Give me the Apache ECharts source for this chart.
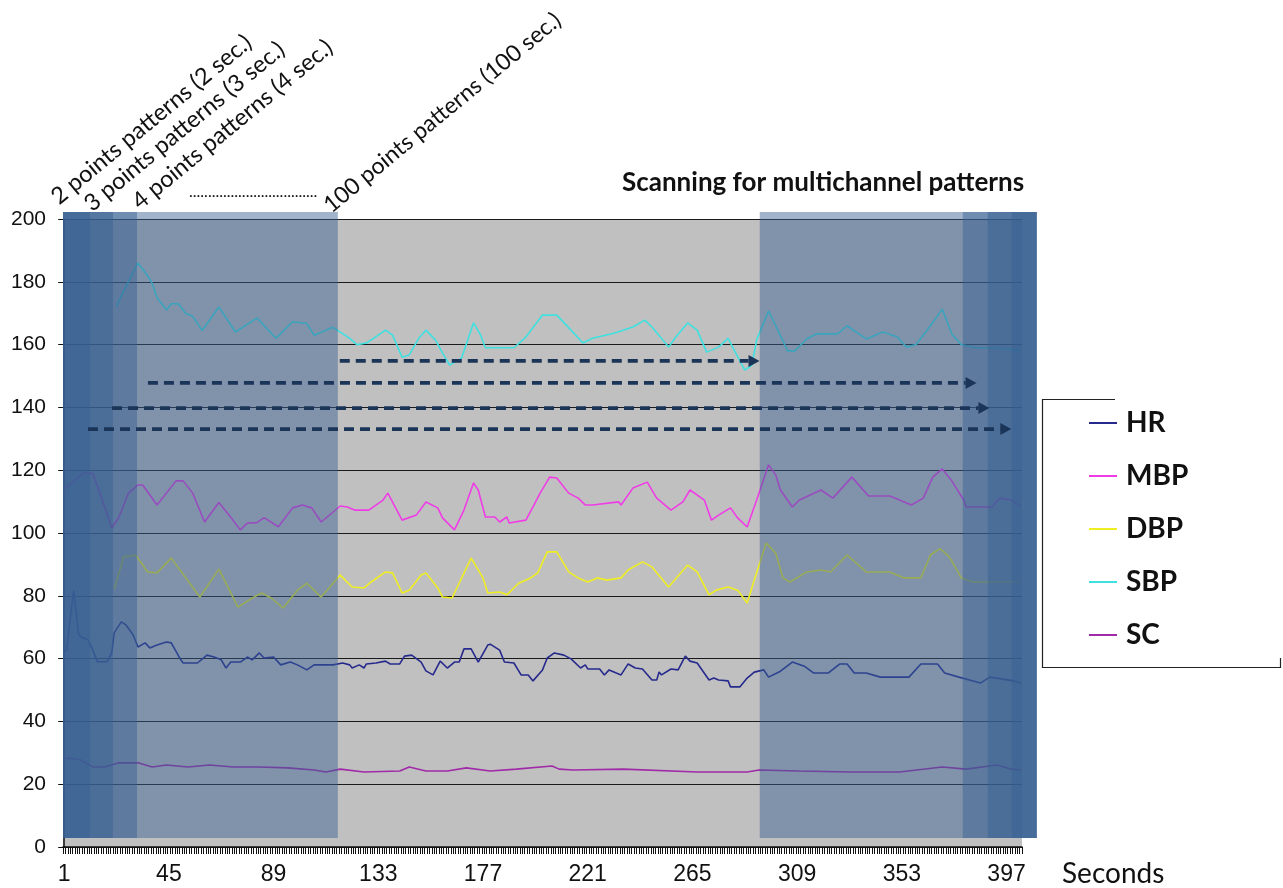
<!DOCTYPE html>
<html>
<head>
<meta charset="utf-8">
<script src="https://cdn.jsdelivr.net/npm/echarts@6/dist/echarts.min.js"></script>
<style>
html,body{margin:0;padding:0;background:#fff;}
#c{width:1283px;height:888px;}
</style>
</head>
<body>
<div id="c"></div>
<script>
// ---- data ----
const N_SECONDS = 403;
const categories = [];
for (let i = 1; i <= N_SECONDS; i++) categories.push(String(i));

const yTicks = [0, 20, 40, 60, 80, 100, 120, 140, 160, 180, 200];

const SBP = [[22,172],[23,174],[31,186],[35,182],[37,179.5],[39,175],[43,171],[45,173],[48,173],[51,170],[54,169],[58,164.5],[65,172],[72,164],[81,168.5],[89,162],[96,167.3],[102,166.7],[105,163],[113,165.5],[117,163.5],[120,162],[123,160],[127,160.5],[130,162],[135,164.6],[138,163],[142,156],[145,156.7],[149,162],[152,164.6],[156,161.5],[159,157.3],[162,153.5],[167,155.7],[172,166.9],[175,163],[177,159],[189,159],[194,162.4],[201,169.4],[207,169.4],[211,166.2],[218,160.5],[222,162],[231,163.6],[239,165.6],[244,167.8],[247,165.6],[254,159.2],[257,162.4],[262,166.9],[266,164.6],[270,157.6],[275,159.2],[279,162],[282,157.6],[286,151.9],[289,153.5],[291,161.5],[296,170.7],[299,166],[304,158],[307,158],[312,161.8],[316,163.4],[325,163.4],[329,166],[337,161.8],[344,164],[350,162.5],[354,159.2],[358,160],[364,166],[369,171.3],[373,163.4],[377,160],[383,159],[393,159],[402,158]];

const MBP = [[0,114],[8,119],[12,119],[15,112.7],[20,101.6],[23,105],[27,112.7],[31,115.3],[33,115.3],[39,108.9],[47,116.6],[50,116.6],[54,112.7],[59,103.5],[65,109.7],[70,105],[74,101],[77,103.2],[81,103.3],[84,104.9],[90,102],[96,108],[100,108.9],[104,108],[108,103.5],[116,108.6],[119,108.3],[122,107.3],[128,107.3],[134,110.5],[136,112.7],[142,104.1],[148,105.7],[152,109.9],[157,108],[159,104.8],[164,101],[168,107.3],[172,115.9],[174,113.7],[177,105.1],[181,105.1],[183,103.5],[186,105.1],[187,103.2],[194,104.1],[197,108.3],[200,112.7],[204,117.8],[207,117.5],[212,112.7],[216,111.1],[219,108.9],[222,108.9],[233,109.9],[234,108.9],[239,114.3],[245,116.2],[249,111.1],[255,107.3],[260,109.9],[263,113.7],[269,110.5],[272,104.1],[275,105.7],[280,108],[283,104.8],[287,101.9],[291,110.5],[296,121.7],[299,118.5],[301,113.7],[306,108.3],[309,110.5],[318,113.7],[323,111.1],[331,117.8],[338,111.8],[347,111.8],[356,108.9],[361,111.1],[365,117.8],[369,120.4],[373,116.6],[378,110.5],[379,108.3],[390,108.3],[393,111.1],[398,110.5],[402,108.5]];

const DBP = [[21,82],[25,92.4],[30,93],[33,89.8],[35,87.6],[39,87.3],[45,92],[57,79.6],[65,88.5],[73,76.4],[79,79.3],[83,80.9],[87,79.3],[92,76.1],[98,81.8],[102,84],[108,79.6],[116,86.6],[121,82.8],[126,82.5],[129,84.4],[135,87.6],[138,87.3],[142,80.9],[145,81.8],[150,86.6],[152,87.3],[157,82.5],[159,79.6],[163,79.3],[171,92],[176,85.7],[178,80.9],[183,81.2],[186,80.3],[191,84],[196,85.7],[199,87.3],[203,94],[207,94],[212,87.6],[216,85.7],[220,84.4],[224,85.7],[228,85],[234,85.7],[237,88.2],[243,90.8],[247,89.2],[254,82.8],[262,89.8],[266,87.6],[271,80.3],[274,81.8],[279,82.8],[283,81.8],[287,77.7],[290,85],[295,96.8],[299,93.6],[302,85.7],[305,84.4],[312,87.6],[318,88.2],[322,87.6],[329,93],[337,87.6],[347,87.6],[353,85.7],[360,85.7],[364,93],[368,95],[372,92.4],[377,85.7],[382,84.4],[393,84.4],[402,84.5]];

const HR = [[0,62],[1,62.7],[4,81.8],[6,68],[7,66.9],[10,66],[12,62.7],[14,59],[18,59],[20,61.8],[21,68.2],[24,71.7],[26,70.7],[29,67.5],[31,63.7],[34,65],[36,63.4],[39,64.3],[43,65.3],[45,65],[49,59.6],[50,58.6],[56,58.6],[60,61.1],[63,60.5],[66,59.6],[68,57],[70,58.9],[74,58.9],[77,60.5],[79,59.6],[82,61.8],[84,60.2],[88,60.5],[91,58],[95,58.9],[98,58],[102,56.4],[105,58],[113,58],[117,58.6],[120,58],[121,57],[124,58],[126,57],[127,58.3],[131,58.6],[135,59.2],[137,58.3],[141,58.3],[143,60.8],[146,61.1],[150,58.9],[152,56.1],[155,54.8],[158,59.2],[161,57],[164,58.9],[166,58.9],[168,63.1],[171,63.1],[174,58.9],[178,64.3],[179,64.6],[183,62.7],[185,58.9],[189,58.6],[192,54.8],[195,54.8],[197,52.9],[201,56.4],[203,60.2],[206,61.8],[210,61.1],[213,59.9],[217,57],[219,58],[220,56.7],[225,56.7],[227,54.8],[229,56.4],[232,55.4],[234,54.8],[237,58.3],[240,57],[243,56.7],[247,53.2],[249,53.2],[250,55.7],[251,54.8],[255,56.7],[258,56.4],[261,60.8],[263,59.2],[266,58.6],[271,53.2],[273,53.8],[275,53.2],[279,52.9],[280,51],[284,51],[287,53.8],[290,55.7],[294,56.4],[296,54.1],[301,56],[306,58.9],[311,57.6],[315,55.4],[321,55.4],[326,58.3],[329,58.3],[332,55.4],[337,55.4],[343,54.1],[355,54.1],[360,58.3],[367,58.3],[370,55.4],[376,54.1],[385,52.2],[389,54.1],[399,52.9],[402,52.2]];

const SC = [[0,28],[2,28.3],[7,27.7],[12,25.5],[17,25.5],[23,26.8],[31,26.8],[37,25.5],[43,26.1],[52,25.5],[61,26.1],[71,25.5],[82,25.5],[94,25.2],[105,24.5],[110,23.9],[116,24.8],[126,23.9],[141,24.2],[145,25.5],[152,24.2],[161,24.2],[169,25.2],[179,24.2],[190,24.8],[205,25.8],[208,24.8],[214,24.5],[235,24.8],[266,23.9],[287,23.9],[292,24.5],[309,24.2],[330,23.9],[351,23.9],[369,25.5],[379,24.8],[392,26.1],[398,24.8],[402,24.5]];

// scanning windows (start index, end index) in seconds-index units
const WINDOWS = [[-0.5,115],[-0.5,30.6],[-0.5,20.5],[-0.5,10.8],[292.3,408.7],[377.6,408.7],[388.1,408.7],[398.2,408.7]];
const WINDOW_TOP = 202.2, WINDOW_BOTTOM = 2.9;
// scan arrows: start index, end index, level
const ARROWS = [[115.8,292.2,154.8],[35.2,383.4,147.8],[20.1,388.8,139.8],[10,398,133.1]];

const seriesNames = ['HR','MBP','DBP','SBP','SC'];
const seriesData = {HR, MBP, DBP, SBP, SC};
const colors = {HR:'#262a8c', MBP:'#f03ce6', DBP:'#eeee22', SBP:'#3ee0e0', SC:'#a02aa8'};

const chart = echarts.init(document.getElementById('c'), null, {renderer:'canvas'});

const lineSeries = seriesNames.map(n => ({
  name: n, type: 'line', data: seriesData[n], xAxisIndex: 0, yAxisIndex: 0,
  showSymbol: false, symbol: 'none', z: 2, animation: false,
  lineStyle: {color: colors[n], width: 1.6}, itemStyle: {color: colors[n]}
}));

const FONT = 'Lato, "Open Sans", sans-serif';
const ROT = 0.69;

const option = {
  animation: false,
  grid: {left: 63, right: 261, top: 219, bottom: 41, show: true, backgroundColor: '#c0c0c0', borderWidth: 0},
  legend: {
    data: seriesNames, orient: 'vertical', left: 1084, top: 403,
    icon: 'path://M0,0 L28,0 L28,2 L0,2 Z', itemWidth: 28, itemHeight: 2, itemGap: 23,
    textStyle: {fontFamily: FONT, fontWeight: 'bold', fontSize: 28, color: '#111', lineHeight: 30, padding: [0,0,0,4]},
    selectedMode: false
  },
  xAxis: [{
    type: 'category', data: categories, boundaryGap: true,
    axisLine: {show: true, lineStyle: {color: '#111', width: 1.5}},
    axisTick: {show: true, interval: 0, length: 7, lineStyle: {color: '#111', width: 1}},
    axisLabel: {interval: 43, fontFamily: '"Liberation Sans", Arial, sans-serif', fontSize: 23, color: '#111', margin: 16},
    splitLine: {show: false}
  }, {
    type: 'value', min: -0.5, max: N_SECONDS - 0.5, show: false
  }],
  yAxis: {
    type: 'value', min: 0, max: 200, interval: 20,
    axisLine: {show: true, lineStyle: {color: '#111', width: 1.5}},
    axisTick: {show: true, length: 6, lineStyle: {color: '#111'}},
    axisLabel: {fontFamily: '"Liberation Sans", Arial, sans-serif', fontSize: 21, color: '#111', margin: 17,
      formatter: v => yTicks.includes(v) ? String(v) : ''},
    splitLine: {show: true, lineStyle: {color: '#1a1a1a', width: 1.2}}
  },
  series: lineSeries.concat([
    {
      type: 'custom', name: 'windows', xAxisIndex: 1, yAxisIndex: 0, z: 3, silent: true,
      data: WINDOWS.map((w, i) => [i]),
      renderItem: (params, api) => {
        const w = WINDOWS[params.dataIndex];
        const p0 = api.coord([w[0], WINDOW_TOP]);
        const p1 = api.coord([w[1], WINDOW_BOTTOM]);
        return {type: 'rect', shape: {x: p0[0], y: p0[1], width: p1[0] - p0[0], height: p1[1] - p0[1]},
          style: {fill: 'rgba(55,96,146,0.47)'}};
      }
    },
    {
      type: 'custom', name: 'arrows', xAxisIndex: 1, yAxisIndex: 0, z: 4, silent: true,
      data: ARROWS.map((a, i) => [i]),
      renderItem: (params, api) => {
        const a = ARROWS[params.dataIndex];
        const p0 = api.coord([a[0], a[2]]);
        const p1 = api.coord([a[1], a[2]]);
        const head = 11;
        return {type: 'group', children: [
          {type: 'line', shape: {x1: p0[0], y1: p0[1], x2: p1[0] - head, y2: p1[1]},
            style: {stroke: '#1b3558', lineWidth: 3.8, lineDash: [10, 6]}},
          {type: 'polygon', shape: {points: [[p1[0] - head, p1[1] - 6], [p1[0], p1[1]], [p1[0] - head, p1[1] + 6]]},
            style: {fill: '#1b3558'}}
        ]};
      }
    }
  ]),
  graphic: [
    {type: 'text', x: 62, y: 209, rotation: ROT, style: {text: '2 points patterns (2 sec.)', font: '23.5px ' + FONT, fill: '#111', verticalAlign: 'bottom', align: 'left'}},
    {type: 'text', x: 95, y: 216, rotation: ROT, style: {text: '3 points patterns (3 sec.)', font: '23.5px ' + FONT, fill: '#111', verticalAlign: 'bottom', align: 'left'}},
    {type: 'text', x: 143, y: 214, rotation: ROT, style: {text: '4 points patterns (4 sec.)', font: '23.5px ' + FONT, fill: '#111', verticalAlign: 'bottom', align: 'left'}},
    {type: 'text', x: 334, y: 217, rotation: ROT, style: {text: '100 points patterns (100 sec.)', font: '23px ' + FONT, fill: '#111', verticalAlign: 'bottom', align: 'left'}},
    {type: 'text', x: 189, y: 200, style: {text: '..................................', font: '16px ' + FONT, fill: '#111', verticalAlign: 'bottom', align: 'left'}},
    {type: 'text', x: 622, y: 183, style: {text: 'Scanning for multichannel patterns', font: 'bold 26px ' + FONT, fill: '#111', verticalAlign: 'middle', align: 'left'}},
    {type: 'text', x: 1062, y: 874, style: {text: 'Seconds', font: '28px ' + FONT, fill: '#111', verticalAlign: 'middle', align: 'left'}},
    {type: 'polyline', shape: {points: [[1115, 399.5], [1042.5, 399.5], [1042.5, 667.5], [1280.5, 667.5], [1280.5, 658]]},
      style: {stroke: '#222', lineWidth: 1.2, fill: null}}
  ]
};
chart.setOption(option);
</script>
</body>
</html>
